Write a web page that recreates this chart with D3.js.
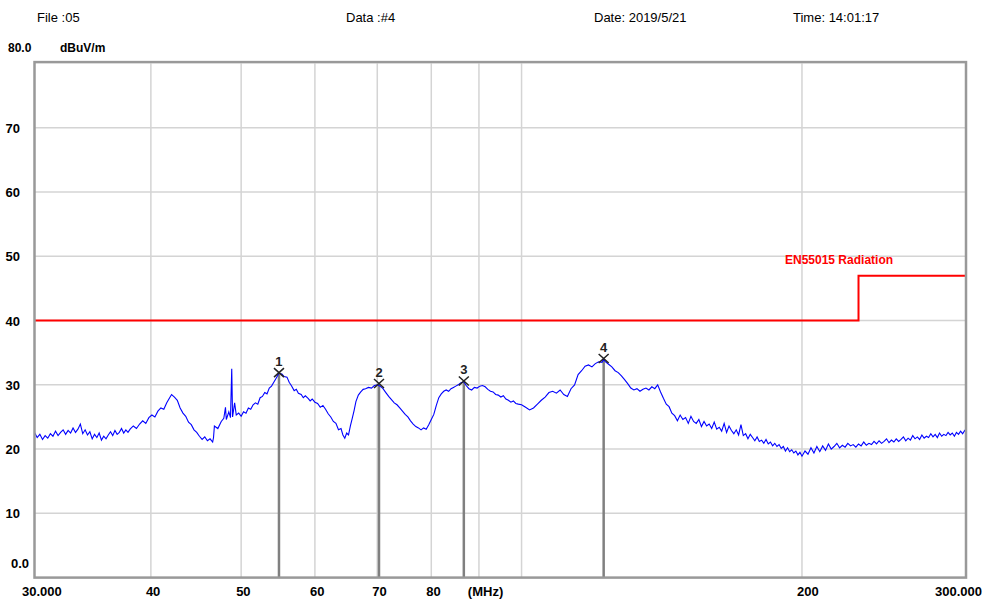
<!DOCTYPE html>
<html>
<head>
<meta charset="utf-8">
<script src="https://cdn.jsdelivr.net/npm/d3@7"></script>
<style>
	body { margin: 0; background: #fff; }
	svg text { font-family: Arial, "Liberation Sans", sans-serif; }
</style>
</head>
<body>
<div id="chart"></div>
<script>
// header fields
var header = [
	{ text: 'File :05', x: 37 },
	{ text: 'Data :#4', x: 346 },
	{ text: 'Date: 2019/5/21', x: 594 },
	{ text: 'Time: 14:01:17', x: 793 }
];

var yTicks = [0, 10, 20, 30, 40, 50, 60, 70];
var xGrid = [40, 50, 60, 70, 80, 90, 100, 200];
var xLabels = [
	{ f: 30, text: '30.000' }, { f: 40, text: '40' }, { f: 50, text: '50' },
	{ f: 60, text: '60' }, { f: 70, text: '70' }, { f: 80, text: '80' },
	{ f: 90, text: '(MHz)' }, { f: 200, text: '200' }, { f: 300, text: '300.000' }
];

// EN55015 limit (MHz, dBuV/m)
var limit = [[30, 40], [230, 40], [230, 47], [300, 47]];

// marker peaks
var markerNo = ['1', '2', '3', '4'];
var markerFreq = [54.9, 70.3, 86.7, 122.5];
var markerLevel = [31.9, 30.2, 30.6, 34.1];

// measured trace (MHz, dBuV/m)
var trace = [
	[30.0, 22.6], [30.2, 21.8], [30.4, 22.3], [30.6, 21.5], [30.8, 22.1], [31.0, 21.7], [31.2, 22.4],
	[31.4, 22.0], [31.6, 22.8], [31.8, 22.1], [32.0, 22.6], [32.2, 23.0], [32.4, 22.3], [32.6, 22.9],
	[32.8, 22.5], [33.0, 23.3], [33.2, 22.6], [33.4, 23.1], [33.6, 23.9], [33.8, 22.4], [34.0, 23.0],
	[34.2, 22.2], [34.4, 22.7], [34.6, 21.6], [34.8, 22.3], [35.0, 21.8], [35.2, 22.5], [35.4, 21.4],
	[35.6, 22.0], [35.8, 21.6], [36.0, 22.2], [36.2, 22.7], [36.4, 22.1], [36.6, 22.9], [36.8, 22.3],
	[37.0, 22.6], [37.2, 23.2], [37.4, 22.5], [37.6, 23.0], [37.8, 22.6], [38.0, 23.1], [38.3, 23.6],
	[38.6, 23.2], [38.9, 23.9], [39.2, 24.4], [39.5, 24.0], [39.8, 24.9], [40.1, 25.3], [40.4, 25.0],
	[40.7, 25.9], [41.0, 26.4], [41.3, 26.2], [41.6, 27.2], [41.9, 28.0], [42.1, 28.5], [42.4, 28.1],
	[42.7, 27.6], [43.0, 26.4], [43.3, 25.6], [43.6, 25.1], [43.9, 24.2], [44.2, 23.8], [44.5, 23.0],
	[44.8, 22.6], [45.1, 22.0], [45.4, 21.5], [45.7, 21.9], [46.0, 21.3], [46.3, 21.6], [46.6, 21.1],
	[46.7, 21.8], [46.8, 23.6], [47.2, 23.2], [47.6, 24.3], [47.9, 24.8], [48.1, 26.5], [48.2, 24.6],
	[48.5, 25.8], [48.7, 24.9], [48.85, 32.5], [48.95, 25.0], [49.2, 27.2], [49.4, 25.3], [49.7, 25.6],
	[50.0, 25.1], [50.3, 25.8], [50.6, 25.6], [50.9, 26.4], [51.2, 26.2], [51.5, 26.9], [51.8, 27.2],
	[52.1, 27.0], [52.4, 28.0], [52.7, 28.2], [53.0, 28.8], [53.3, 28.6], [53.6, 29.5], [53.9, 29.8],
	[54.2, 30.4], [54.5, 31.0], [54.9, 31.8], [55.3, 31.7], [55.6, 31.3], [56.0, 31.2], [56.3, 30.4],
	[56.6, 29.9], [57.0, 29.1], [57.3, 29.3], [57.6, 28.7], [58.0, 28.5], [58.3, 28.0], [58.6, 28.3],
	[59.0, 27.9], [59.3, 27.5], [59.6, 27.8], [60.0, 27.3], [60.4, 27.1], [60.8, 26.5], [61.2, 26.8],
	[61.6, 26.2], [62.0, 25.5], [62.4, 25.0], [62.8, 24.3], [63.2, 24.0], [63.6, 23.0], [64.0, 23.2],
	[64.3, 22.2], [64.6, 21.7], [64.9, 22.5], [65.2, 22.2], [65.5, 23.6], [65.8, 24.8], [66.1, 26.0],
	[66.4, 27.4], [66.8, 28.4], [67.2, 28.9], [67.6, 29.3], [68.0, 29.4], [68.5, 29.6], [69.0, 29.5],
	[69.5, 29.9], [70.0, 30.0], [70.5, 29.8], [71.0, 29.4], [71.5, 28.8], [72.0, 28.2], [72.5, 27.7],
	[73.0, 27.2], [73.5, 26.9], [74.0, 26.4], [74.5, 25.9], [75.0, 25.4], [75.5, 25.0], [76.0, 24.4],
	[76.5, 23.9], [77.0, 23.5], [77.5, 23.3], [78.0, 23.0], [78.5, 23.3], [79.0, 23.1], [79.5, 23.8],
	[80.0, 24.6], [80.5, 25.4], [81.0, 26.8], [81.5, 28.0], [82.0, 28.6], [82.5, 29.0], [83.0, 29.2],
	[83.5, 29.0], [84.0, 29.4], [84.5, 29.6], [85.0, 29.8], [85.5, 30.0], [86.0, 30.3], [86.7, 30.5],
	[87.2, 29.9], [87.8, 29.4], [88.4, 29.2], [89.0, 29.6], [89.6, 29.5], [90.2, 29.8], [90.8, 29.9],
	[91.4, 29.7], [92.0, 29.3], [92.6, 29.0], [93.2, 28.9], [93.8, 28.5], [94.4, 28.4], [95.0, 28.1],
	[95.6, 28.3], [96.2, 27.8], [96.8, 27.6], [97.4, 27.3], [98.0, 27.5], [98.6, 27.1], [99.2, 27.0],
	[100, 26.9], [101, 26.5], [102, 26.1], [103, 26.4], [104, 27.0], [105, 27.6], [106, 28.1],
	[107, 28.8], [108, 29.0], [109, 28.7], [110, 29.2], [111, 28.5], [112, 28.2], [113, 29.4],
	[114, 30.0], [115, 31.6], [116, 32.2], [117, 32.9], [118, 33.1], [119, 32.8], [120, 33.3],
	[121, 33.6], [122, 33.5], [122.5, 34.0], [123, 33.6], [124, 33.2], [125, 32.8], [126, 32.2],
	[127, 31.9], [128, 31.4], [129, 30.8], [130, 30.2], [131, 29.5], [132, 29.2], [133, 29.4],
	[134, 29.0], [135, 29.3], [136, 29.5], [137, 29.2], [138, 29.7], [139, 29.4], [140, 30.0],
	[141, 28.9], [142, 27.9], [143, 27.0], [144, 26.6], [145, 25.6], [146, 25.2], [147, 24.4],
	[148, 25.3], [149, 24.6], [150, 24.9], [151, 24.0], [152, 25.1], [153, 24.3], [154, 24.0],
	[155, 24.6], [156, 23.5], [157, 24.3], [158, 23.6], [159, 23.9], [160, 23.2], [161, 24.2],
	[162, 23.1], [163, 23.4], [164, 22.8], [165, 24.0], [166, 22.6], [167, 23.6], [168, 22.9],
	[169, 22.4], [170, 23.0], [171, 22.2], [172, 23.8], [173, 22.1], [174, 22.4], [175, 21.6],
	[176, 22.3], [177, 21.8], [178, 21.3], [179, 21.9], [180, 21.2], [181, 21.4], [182, 20.9],
	[183, 21.5], [184, 20.8], [185, 21.1], [186, 20.5], [187, 20.9], [188, 20.4], [189, 20.7],
	[190, 20.1], [191, 20.4], [192, 19.7], [193, 20.2], [194, 19.6], [195, 19.9], [196, 19.4],
	[197, 19.7], [198, 19.1], [199, 19.5], [200, 18.9], [201.5, 19.7], [203, 19.2], [204.5, 20.2],
	[206, 19.4], [207.5, 20.4], [209, 19.6], [210.5, 20.5], [212, 19.8], [213.5, 20.8], [215, 20.0],
	[216.5, 20.4], [218, 20.9], [219.5, 20.2], [221, 20.6], [222.5, 20.3], [224, 20.9], [225.5, 20.5],
	[227, 20.7], [228.5, 20.3], [230, 20.8], [231.5, 20.5], [233, 21.1], [234.5, 20.6], [236, 20.9],
	[237.5, 20.7], [239, 21.2], [240.5, 20.8], [242, 21.3], [243.5, 20.9], [245, 21.2], [246.5, 21.6],
	[248, 21.0], [249.5, 21.4], [251, 21.1], [252.5, 21.6], [254, 21.2], [255.5, 21.5], [257, 21.9],
	[258.5, 21.3], [260, 21.7], [261.5, 21.4], [263, 22.1], [264.5, 21.6], [266, 21.9], [267.5, 21.5],
	[269, 22.2], [270.5, 21.7], [272, 22.0], [273.5, 21.8], [275, 22.4], [276.5, 21.9], [278, 22.3],
	[279.5, 21.8], [281, 22.5], [282.5, 22.0], [284, 22.3], [285.5, 22.1], [287, 22.6], [288.5, 22.2],
	[290, 22.5], [291.5, 22.0], [293, 22.6], [294.5, 22.3], [296, 22.8], [297.5, 22.4], [299, 22.9],
	[300, 22.6]
];

var width = 984, height = 601;
var plotLeft = 34.5, plotRight = 966, plotTop = 63.6, plotBottom = 577.6;

var svg = d3.select('#chart').append('svg')
	.attr('width', width)
	.attr('height', height);

var x = d3.scaleLog().domain([30, 300]).range([plotLeft, plotRight]);
var y = d3.scaleLinear().domain([0, 80]).range([plotBottom, plotTop]);

// header line
svg.selectAll('text.head')
	.data(header)
	.enter().append('text')
	.attr('class', 'head')
	.attr('x', function (d) { return d.x; })
	.attr('y', 22)
	.style('font-size', '13px')
	.text(function (d) { return d.text; });

svg.append('text').attr('x', 8).attr('y', 52)
	.style('font-size', '12px').style('font-weight', 'bold').text('80.0');
svg.append('text').attr('x', 60).attr('y', 52)
	.style('font-size', '12px').style('font-weight', 'bold').text('dBuV/m');

// grid
svg.selectAll('line.hgrid')
	.data(yTicks.filter(function (d) { return d > 0; }))
	.enter().append('line')
	.attr('class', 'hgrid')
	.attr('x1', plotLeft).attr('x2', plotRight)
	.attr('y1', function (d) { return y(d); })
	.attr('y2', function (d) { return y(d); })
	.attr('stroke', '#d4d4d4').attr('stroke-width', 1.5);

svg.selectAll('line.vgrid')
	.data(xGrid)
	.enter().append('line')
	.attr('class', 'vgrid')
	.attr('x1', function (d) { return x(d); })
	.attr('x2', function (d) { return x(d); })
	.attr('y1', plotTop).attr('y2', plotBottom)
	.attr('stroke', '#d4d4d4').attr('stroke-width', 1.5);

// y labels
svg.selectAll('text.ylab')
	.data(yTicks)
	.enter().append('text')
	.attr('class', 'ylab')
	.attr('x', function (d) { return d === 0 ? 29 : 20; })
	.attr('y', function (d) { return d === 0 ? y(d) - 10 : y(d) + 5; })
	.attr('text-anchor', 'end')
	.style('font-size', '13px').style('font-weight', 'bold')
	.text(function (d) { return d === 0 ? '0.0' : d; });

// x labels
svg.selectAll('text.xlab')
	.data(xLabels)
	.enter().append('text')
	.attr('class', 'xlab')
	.attr('x', function (d) {
		if (d.f === 30) return 22;
		if (d.f === 300) return 982;
		if (d.f === 90) return x(88) - 2;
		return x(d.f) - 5;
	})
	.attr('y', 596)
	.attr('text-anchor', function (d) { return d.f === 300 ? 'end' : 'start'; })
	.style('font-size', '13px').style('font-weight', 'bold')
	.text(function (d) { return d.text; });

// limit line
var line = d3.line()
	.x(function (d) { return x(d[0]); })
	.y(function (d) { return y(d[1]); });

svg.append('path')
	.datum(limit)
	.attr('d', line)
	.attr('fill', 'none')
	.attr('stroke', '#ff0000')
	.attr('stroke-width', 2);

svg.append('text')
	.attr('x', 785).attr('y', 264)
	.attr('fill', '#ff0000')
	.style('font-size', '12px').style('font-weight', 'bold')
	.text('EN55015 Radiation');

// marker stems
svg.selectAll('line.stem')
	.data(markerFreq)
	.enter().append('line')
	.attr('class', 'stem')
	.attr('x1', function (d) { return x(d); })
	.attr('x2', function (d) { return x(d); })
	.attr('y1', function (d, i) { return y(markerLevel[i]); })
	.attr('y2', plotBottom)
	.attr('stroke', '#808080').attr('stroke-width', 2.5);

// trace
svg.append('path')
	.datum(trace)
	.attr('d', line)
	.attr('fill', 'none')
	.attr('stroke', '#0000ff')
	.attr('stroke-width', 1.1);

// marker crosses and numbers
var mk = svg.selectAll('g.marker')
	.data(markerFreq)
	.enter().append('g')
	.attr('class', 'marker')
	.attr('transform', function (d, i) { return 'translate(' + x(d) + ',' + y(markerLevel[i]) + ')'; });

mk.append('path')
	.attr('d', 'M-5,-4.5L5,4.5M-5,4.5L5,-4.5')
	.attr('stroke', '#222').attr('stroke-width', 1.5);

mk.append('text')
	.attr('y', -7)
	.attr('text-anchor', 'middle')
	.style('font-size', '13px').style('font-weight', 'bold')
	.attr('fill', '#222')
	.text(function (d, i) { return markerNo[i]; });

// frame
svg.append('rect')
	.attr('x', plotLeft).attr('y', plotTop - 1.5)
	.attr('width', plotRight - plotLeft).attr('height', plotBottom - plotTop + 1.5)
	.attr('fill', 'none')
	.attr('stroke', '#999').attr('stroke-width', 2.5);
</script>
</body>
</html>
